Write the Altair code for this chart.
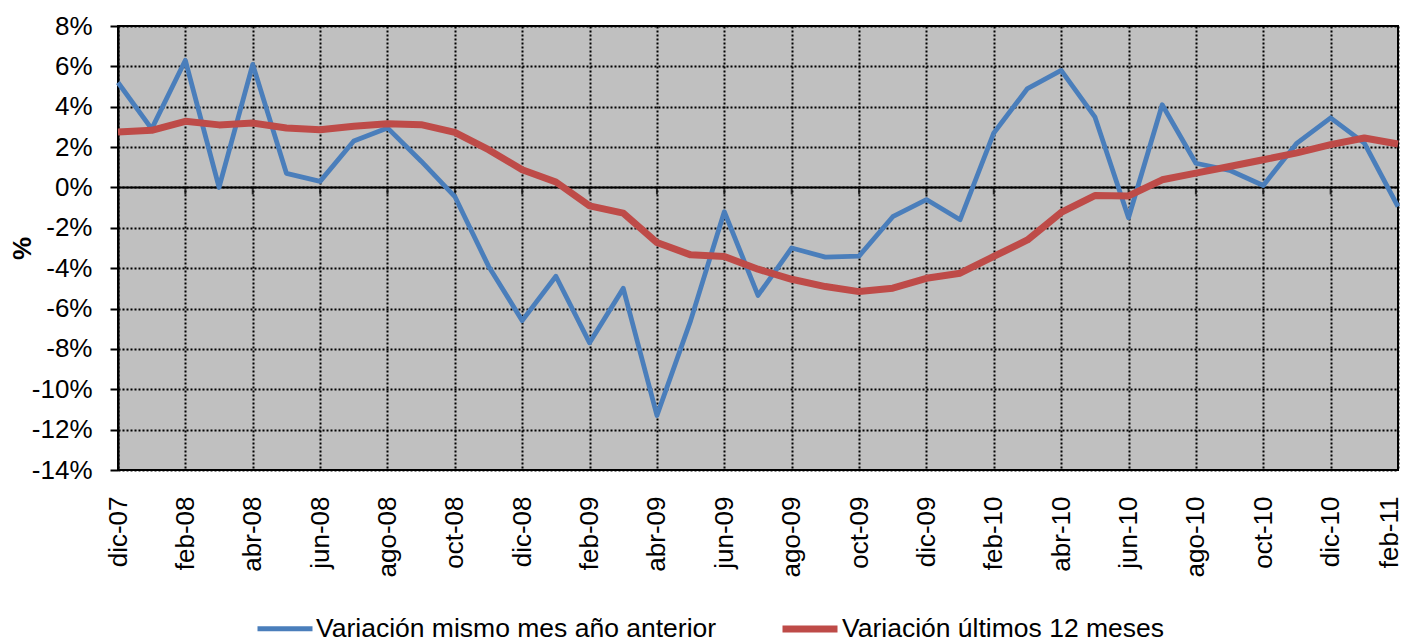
import altair as alt
import pandas as pd

meses = ["dic-07", "ene-08", "feb-08", "mar-08", "abr-08", "may-08", "jun-08", "jul-08",
         "ago-08", "sep-08", "oct-08", "nov-08", "dic-08", "ene-09", "feb-09", "mar-09",
         "abr-09", "may-09", "jun-09", "jul-09", "ago-09", "sep-09", "oct-09", "nov-09",
         "dic-09", "ene-10", "feb-10", "mar-10", "abr-10", "may-10", "jun-10", "jul-10",
         "ago-10", "sep-10", "oct-10", "nov-10", "dic-10", "ene-11", "feb-11"]

serie_mes = [5.2, 2.9, 6.3, 0.0, 6.1, 0.7, 0.3, 2.3, 2.95, 1.3, -0.45, -3.9, -6.6,
             -4.4, -7.7, -5.0, -11.3, -6.6, -1.2, -5.35, -3.0, -3.45, -3.4, -1.45,
             -0.6, -1.6, 2.7, 4.9, 5.8, 3.5, -1.5, 4.1, 1.2, 0.85, 0.1, 2.2, 3.45,
             2.2, -0.95]

serie_12m = [2.75, 2.83, 3.28, 3.1, 3.19, 2.95, 2.86, 3.03, 3.16, 3.11, 2.73, 1.87,
             0.88, 0.27, -0.91, -1.27, -2.73, -3.34, -3.42, -4.05, -4.55, -4.91,
             -5.16, -4.99, -4.5, -4.25, -3.42, -2.6, -1.24, -0.4, -0.42, 0.38, 0.71,
             1.04, 1.37, 1.71, 2.12, 2.45, 2.15]

nombres = ["Variación mismo mes año anterior", "Variación últimos 12 meses"]
colores = ["#4A7EBB", "#BE4B48"]
grosores = [4.8, 7]
y_ticks = list(range(-14, 9, 2))
x_ticks = list(range(0, len(meses), 2))

FONT = "Liberation Sans"
FS = 26

rows = []
for k, serie in enumerate([serie_mes, serie_12m]):
    for i, v in enumerate(serie):
        rows.append({"idx": i, "mes": meses[i], "serie": nombres[k], "valor": v})
df = pd.DataFrame(rows)

label_expr = "[" + ",".join("'" + m + "'" for m in meses) + "][datum.value]"
last = len(meses) - 1

x_enc = alt.X(
    "idx:Q",
    scale=alt.Scale(domain=[0, last], nice=False, zero=False),
    axis=alt.Axis(
        values=x_ticks, labelExpr=label_expr, labelAngle=-90, labelFontSize=FS,
        labelFont=FONT, labelColor="black", labelPadding=26, ticks=False,
        labelOffset={"condition": {"test": f"datum.value == {last}", "value": -9},
                     "value": 0},
        domain=False, grid=True, gridColor="black", gridDash=[2, 2],
        gridWidth=2, gridOpacity=1, labelFlush=False, labelOverlap=False,
        title=None,
    ),
)

y_enc = alt.Y(
    "valor:Q",
    scale=alt.Scale(domain=[-14, 8], nice=False, zero=False),
    axis=alt.Axis(
        values=y_ticks, labelExpr="datum.value + '%'", labelFontSize=FS,
        labelFont=FONT, labelColor="black", labelPadding=18, tickSize=8,
        tickColor="black", tickWidth=2, domain=True, domainColor="black",
        domainWidth=2, grid=True, gridColor="black", gridDash=[2, 2],
        gridWidth=2, gridOpacity=1, title="%", titleFont=FONT,
        titleFontSize=FS, titleFontWeight="bold", titleColor="black",
        titleAngle=-90, titleX=-96, titleY=222, titleAlign="center",
        titleBaseline="middle",
    ),
)

legend_props = dict(
    title=None, orient="none", legendX=137, legendY=572,
    direction="horizontal", symbolType="stroke", symbolSize=3025,
    labelFontSize=26.5, labelFont=FONT, labelColor="black", labelOffset=1,
    columnPadding=51, padding=0, labelLimit=0,
)

lines = alt.Chart(df).mark_line(strokeJoin="round", strokeCap="butt").encode(
    x=x_enc,
    y=y_enc,
    color=alt.Color(
        "serie:N",
        scale=alt.Scale(domain=nombres, range=colores),
        sort=nombres,
        legend=alt.Legend(**legend_props),
    ),
    strokeWidth=alt.StrokeWidth(
        "serie:N", scale=alt.Scale(domain=nombres, range=grosores),
        sort=nombres,
        legend=alt.Legend(**legend_props),
    ),
)

zero_df = pd.DataFrame({"valor": [0.0]})
zero_line = alt.Chart(zero_df).mark_rule(color="black", strokeWidth=2).encode(
    y=alt.Y("valor:Q")
)

tick_df = pd.DataFrame({"idx": x_ticks, "valor": [0.0] * len(x_ticks)})
zero_ticks = alt.Chart(tick_df).mark_tick(
    color="black", thickness=2, size=7, yOffset=3.5, orient="vertical"
).encode(x=alt.X("idx:Q"), y=alt.Y("valor:Q"))

chart = (
    alt.layer(zero_line, zero_ticks, lines)
    .properties(
        width=1280, height=444,
        autosize=alt.AutoSizeParams(type="none"),
        padding={"left": 110, "top": 18, "right": 2, "bottom": 190},
        background="white",
    )
    .configure_view(stroke="black", strokeWidth=2, fill="#C0C0C0")
)

chart.save("out.html", embed_options={"renderer": "svg", "actions": False})
